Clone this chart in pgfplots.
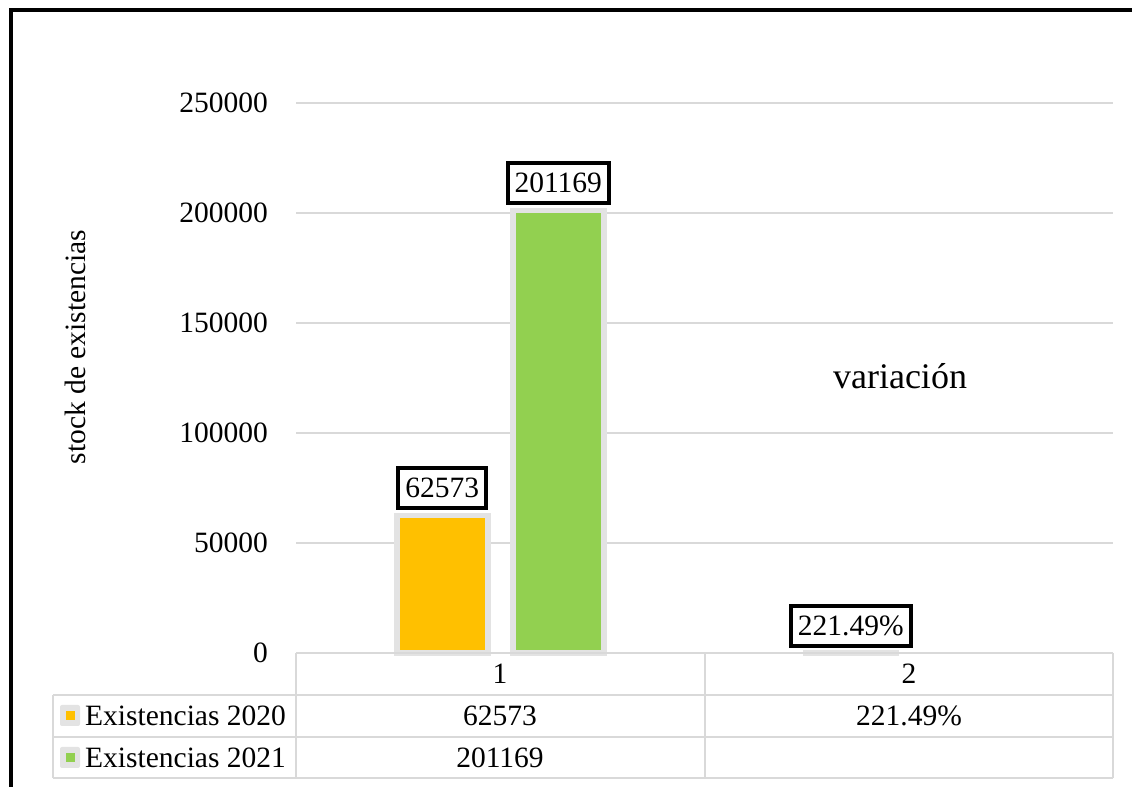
\documentclass[border=0pt]{standalone}
\usepackage{pgfplots}
\pgfplotsset{compat=1.18}
\usepackage{fontspec}
\setmainfont{Liberation Serif}
\definecolor{orng}{HTML}{FFC000}
\definecolor{grn}{HTML}{92D050}
\definecolor{grd}{HTML}{D9D9D9}
\definecolor{brd}{HTML}{E3E3E3}
\newcommand\f{\fontsize{29.5bp}{35bp}\selectfont}
\begin{document}
\begin{tikzpicture}[x=1bp,y=1bp]
\useasboundingbox (0,0) rectangle (1132,787);
\fill[white] (0,0) rectangle (1132,787);
\begin{axis}[
  at={(296bp,134bp)}, anchor=south west,
  scale only axis, width=817bp, height=550bp,
  xmin=0.5, xmax=2.5, ymin=0, ymax=250000,
  ytick={0,50000,100000,150000,200000,250000},
  yticklabels={0,50000,100000,150000,200000,250000},
  xtick=\empty,
  ymajorgrids, grid style={grd, line width=2bp},
  axis line style={draw=none}, tick style={draw=none},
  scaled y ticks=false,
  yticklabel style={font=\f, anchor=east, inner sep=0pt, xshift=-28bp},
  ybar, bar width=91bp, clip=false,
  nodes near coords={\pgfplotspointmeta},
  point meta=explicit symbolic,
  nodes near coords style={font=\f, anchor=south, draw=black, line width=4bp, fill=white,
     inner xsep=7bp, inner ysep=9.5bp, text height=20bp, text depth=1bp, yshift=5bp},
]
\addplot[ybar, bar shift=-58bp, fill=orng, draw=brd, line width=5.5bp]
  coordinates {(1,62573) [62573] (2,2.2149) [221.49\%]};
\addplot[ybar, bar shift=58bp, fill=grn, draw=brd, line width=5.5bp]
  coordinates {(1,201169) [201169]};
\end{axis}
% data table
\begin{scope}[grd, line width=2bp]
\draw (296,134) -- (1113,134);
\draw (53,92) -- (1113,92);
\draw (53,50) -- (1113,50);
\draw (53,9) -- (1113,9);
\draw (53,92) -- (53,9);
\draw (296,134) -- (296,9);
\draw (705,134) -- (705,9);
\draw (1113,134) -- (1113,9);
\end{scope}
\node[font=\f] at (500,113) {1};
\node[font=\f] at (909,113) {2};
\node[font=\f] at (500,71) {62573};
\node[font=\f] at (909,71) {221.49\%};
\node[font=\f] at (500,29) {201169};
\fill[brd, rounded corners=2bp] (60,61) rectangle (80,82);
\fill[orng] (66,67) rectangle (75,76);
\fill[brd, rounded corners=2bp] (60,19) rectangle (80,40);
\fill[grn] (66,25) rectangle (75,34);
\node[font=\f, anchor=west, inner sep=0pt] at (85,71) {Existencias 2020};
\node[font=\f, anchor=west, inner sep=0pt] at (85,29) {Existencias 2021};
% labels
\node[font=\f, rotate=90] at (75,440) {stock de existencias};
\node[font=\fontsize{36bp}{42bp}\selectfont] at (900,411) {variación};
% frame
\draw[black, line width=4bp] (11,-5) -- (11,777) -- (1140,777);
\end{tikzpicture}
\end{document}
